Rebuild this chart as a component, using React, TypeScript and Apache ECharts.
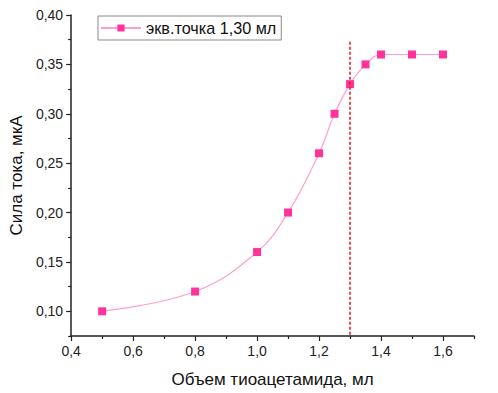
import React, { useEffect, useRef } from "react";
import * as echarts from "echarts";

const xValues = [0.5, 0.8, 1.0, 1.1, 1.2, 1.25, 1.3, 1.35, 1.4, 1.5, 1.6];
const yValues = [0.10, 0.12, 0.16, 0.20, 0.26, 0.30, 0.33, 0.35, 0.36, 0.36, 0.36];
const seriesName = "экв.точка 1,30 мл";
const xMajorTicks = [0.4, 0.6, 0.8, 1.0, 1.2, 1.4, 1.6];
const xMinorTicks = [0.5, 0.7, 0.9, 1.1, 1.3, 1.5, 1.7];
const yMajorTicks = [0.10, 0.15, 0.20, 0.25, 0.30, 0.35, 0.40];
const yMinorTicks = [0.075, 0.125, 0.175, 0.225, 0.275, 0.325, 0.375];
const equivX = 1.3;
const equivLineTop = 0.373;

export default function App() {
  const ref = useRef<HTMLDivElement>(null);
  useEffect(() => {
    const chart = echarts.init(ref.current!, null, { renderer: "svg" });
    const font = "Liberation Sans, Arial, sans-serif";
    const xMin = 0.4, xMax = 1.7, yMin = 0.075, yMax = 0.4;
    chart.setOption({
      animation: false,
      textStyle: { fontFamily: font },
      grid: { left: 71, top: 15, right: 24, bottom: 54 },
      legend: {
        left: 98,
        top: 16,
        padding: [4, 5, 4, 2],
        borderColor: "#888",
        borderWidth: 1,
        itemWidth: 40,
        itemHeight: 9,
        itemGap: 4,
        textStyle: { fontSize: 16.2, color: "#111", fontFamily: font },
        data: [seriesName],
      },
      xAxis: [
        {
          type: "value",
          min: xMin,
          max: xMax,
          name: "Объем тиоацетамида, мл",
          nameLocation: "middle",
          nameGap: 35,
          nameTextStyle: { fontSize: 17, color: "#111", fontFamily: font },
          axisLine: { show: true, lineStyle: { color: "#222", width: 1.5 } },
          axisTick: { show: true, length: 5, lineStyle: { color: "#222", width: 1.2 }, customValues: xMajorTicks },
          axisLabel: {
            customValues: xMajorTicks,
            fontSize: 14,
            color: "#222",
            margin: 8,
            formatter: (v: number) => v.toFixed(1).replace(".", ","),
          },
          splitLine: { show: false },
        },
        {
          type: "value",
          min: xMin,
          max: xMax,
          position: "bottom",
          axisLine: { show: false },
          axisTick: { show: true, length: 3, lineStyle: { color: "#222", width: 1.2 }, customValues: xMinorTicks },
          axisLabel: { show: false },
          splitLine: { show: false },
        },
      ],
      yAxis: [
        {
          type: "value",
          min: yMin,
          max: yMax,
          name: "Сила тока, мкА",
          nameLocation: "middle",
          nameGap: 38,
          nameTextStyle: { fontSize: 17, color: "#111", fontFamily: font },
          axisLine: { show: true, lineStyle: { color: "#222", width: 1.5 } },
          axisTick: { show: true, length: 5, lineStyle: { color: "#222", width: 1.2 }, customValues: yMajorTicks },
          axisLabel: {
            customValues: yMajorTicks,
            fontSize: 14,
            color: "#222",
            margin: 8,
            formatter: (v: number) => v.toFixed(2).replace(".", ","),
          },
          splitLine: { show: false },
        },
        {
          type: "value",
          min: yMin,
          max: yMax,
          position: "left",
          axisLine: { show: false },
          axisTick: { show: true, length: 3, lineStyle: { color: "#222", width: 1.2 }, customValues: yMinorTicks },
          axisLabel: { show: false },
          splitLine: { show: false },
        },
      ],
      series: [
        {
          name: seriesName,
          type: "line",
          smooth: 0.4,
          data: xValues.map((x, i) => [x, yValues[i]]),
          symbol: "rect",
          symbolSize: 8,
          itemStyle: { color: "#ff3399" },
          lineStyle: { color: "#ff9fd0", width: 1.2 },
          markLine: {
            silent: true,
            symbol: "none",
            label: { show: false },
            lineStyle: { color: "#e8141e", type: [3, 2], width: 1.5 },
            data: [[{ coord: [equivX, equivLineTop] }, { coord: [equivX, yMin] }]],
          },
          z: 3,
        },
      ],
    });
    return () => chart.dispose();
  }, []);
  return <div ref={ref} style={{ width: 498, height: 393, position: "absolute", left: 0, top: 0, background: "#fff" }} />;
}
